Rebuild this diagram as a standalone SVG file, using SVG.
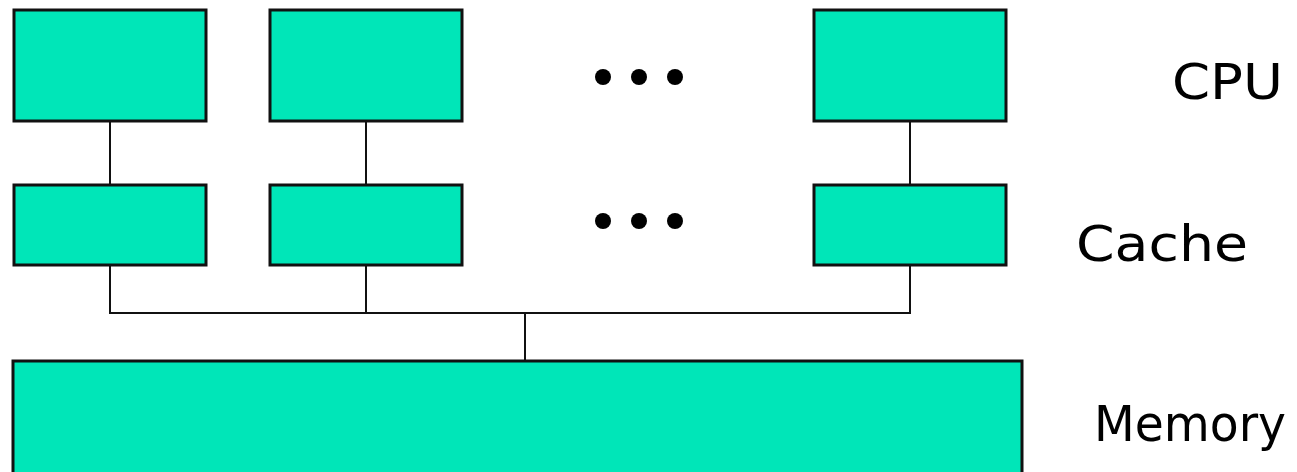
<svg xmlns="http://www.w3.org/2000/svg" width="1297" height="472" viewBox="0 0 1297 472">
<style>
.box{fill:#00e6b8;stroke:#111;stroke-width:3}
.ln{stroke:#111;stroke-width:2;fill:none}
.dot{fill:#000}
.lbl{font-family:"Comic Sans MS","DejaVu Sans",sans-serif;font-size:50px;fill:#000}
</style>
<g id="connectors">
<line class="ln" x1="110" y1="121" x2="110" y2="185"/>
<line class="ln" x1="366" y1="121" x2="366" y2="185"/>
<line class="ln" x1="910" y1="121" x2="910" y2="185"/>
<polyline class="ln" points="110,265 110,313 910,313 910,265"/>
<line class="ln" x1="366" y1="265" x2="366" y2="313"/>
<line class="ln" x1="525" y1="313" x2="525" y2="361"/>
</g>
<g id="cpu1"><rect class="box" x="14" y="10" width="192" height="111"/></g>
<g id="cpu2"><rect class="box" x="270" y="10" width="192" height="111"/></g>
<g id="cpu3"><rect class="box" x="814" y="10" width="192" height="111"/></g>
<g id="cache1"><rect class="box" x="14" y="185" width="192" height="80"/></g>
<g id="cache2"><rect class="box" x="270" y="185" width="192" height="80"/></g>
<g id="cache3"><rect class="box" x="814" y="185" width="192" height="80"/></g>
<g id="memory"><rect class="box" x="13" y="361" width="1009" height="120"/></g>
<g id="dots">
<circle class="dot" cx="603" cy="77" r="8"/><circle class="dot" cx="639" cy="77" r="8"/><circle class="dot" cx="675" cy="77" r="8"/>
<circle class="dot" cx="603" cy="221" r="8"/><circle class="dot" cx="639" cy="221" r="8"/><circle class="dot" cx="675" cy="221" r="8"/>
</g>
<g id="labels">
<text class="lbl" x="1172" y="99" textLength="111" lengthAdjust="spacingAndGlyphs">CPU</text>
<text class="lbl" x="1076" y="261" textLength="172" lengthAdjust="spacingAndGlyphs">Cache</text>
<text class="lbl" x="1094" y="441" textLength="192" lengthAdjust="spacingAndGlyphs">Memory</text>
</g>
</svg>
